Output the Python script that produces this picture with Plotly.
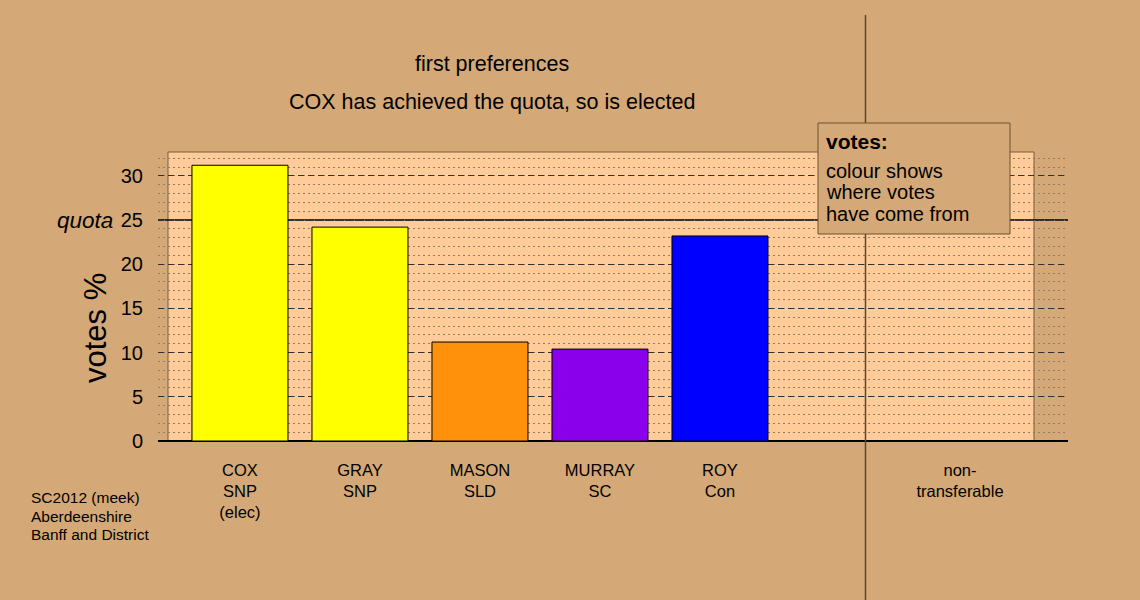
import plotly.graph_objects as go

# ---- data ----
candidates = ["COX", "GRAY", "MASON", "MURRAY", "ROY", "", "non-"]
parties = ["SNP", "SNP", "SLD", "SC", "Con", "", "transferable"]
status = ["(elec)", "", "", "", "", "", ""]
votes_pct = [31.2, 24.2, 11.2, 10.4, 23.2, None, 0.0]
bar_colors = ["#FFFF00", "#FFFF00", "#FF920A", "#8A00EA", "#0000FF", "#FFFFFF", "#FFFFFF"]
quota = 25
y_ticks = [0, 5, 10, 15, 20, 25, 30]
title_lines = ["first preferences", "COX has achieved the quota, so is elected"]
footer_lines = ["SC2012 (meek)", "Aberdeenshire", "Banff and District"]
box_title = "votes:"
box_lines = ["colour shows", "where votes", "have come from"]

# ---- layout geometry (pixels) ----
W, H = 1140, 600
L, R, T, B = 158, 1068, 152, 441
PW, PH = R - L, B - T


def px(x):
    return (x - L) / PW


def py(y):
    return (B - y) / PH


FONT = "Liberation Sans, Arial, sans-serif"
BG = "#D4A977"
PANEL = "#FFCC99"

keys = []
ticktext = []
for i, (c, p, s) in enumerate(zip(candidates, parties, status)):
    key = f"k{i}"
    keys.append(key)
    parts = [t for t in (c, p, s) if t]
    ticktext.append("<br>".join(parts))

fig = go.Figure()
fig.add_trace(go.Bar(
    x=keys,
    y=votes_pct,
    width=0.8,
    marker=dict(color=bar_colors, line=dict(color="#000000", width=1)),
    hoverinfo="skip",
    showlegend=False,
))

shapes = []
# panel background
shapes.append(dict(type="rect", xref="paper", yref="paper",
                   x0=px(168), x1=px(1034), y0=0, y1=1,
                   fillcolor=PANEL, line=dict(color="#7A5C3A", width=1),
                   layer="below"))
# quota line
shapes.append(dict(type="line", xref="paper", yref="y",
                   x0=0, x1=1, y0=quota, y1=quota,
                   line=dict(color="#000000", width=1.5), layer="between"))
# vertical separator
shapes.append(dict(type="line", xref="paper", yref="paper",
                   x0=px(865.5), x1=px(865.5), y0=py(15), y1=py(600),
                   line=dict(color="#5A4630", width=1.5), layer="above"))
# info box
shapes.append(dict(type="rect", xref="paper", yref="paper",
                   x0=px(818), x1=px(1010), y0=py(234), y1=py(123),
                   fillcolor=BG, line=dict(color="#6B5334", width=1),
                   layer="above"))

ann = []
for txt, yy in zip(title_lines, [64, 102]):
    ann.append(dict(text=txt, xref="paper", yref="paper", x=px(492), y=py(yy),
                    xanchor="center", yanchor="middle", showarrow=False,
                    font=dict(size=21.5, color="#000000", family=FONT)))
for txt, yy in zip(footer_lines, [497, 516, 534]):
    ann.append(dict(text=txt, xref="paper", yref="paper", x=px(29), y=py(yy),
                    xanchor="left", yanchor="middle", showarrow=False,
                    font=dict(size=15.5, color="#000000", family=FONT)))
ann.append(dict(text="<b>" + box_title + "</b>", xref="paper", yref="paper",
                x=px(824), y=py(142), xanchor="left", yanchor="middle",
                showarrow=False, font=dict(size=21, color="#000000", family=FONT)))
for txt, yy in zip(box_lines, [170.5, 192, 213.5]):
    ann.append(dict(text=txt, xref="paper", yref="paper", x=px(824), y=py(yy),
                    xanchor="left", yanchor="middle", showarrow=False,
                    font=dict(size=20, color="#000000", family=FONT)))
ann.append(dict(text="<i>quota</i>", xref="paper", yref="y", x=px(115), y=quota,
                xanchor="right", yanchor="middle", showarrow=False,
                font=dict(size=22.5, color="#000000", family=FONT)))
ann.append(dict(text="votes %", xref="paper", yref="paper", x=px(95), y=py(328),
                xanchor="center", yanchor="middle", textangle=-90, showarrow=False,
                font=dict(size=31, color="#000000", family=FONT)))

fig.update_layout(
    width=W, height=H,
    margin=dict(l=L, r=W - R, t=T, b=H - B, pad=0),
    paper_bgcolor=BG,
    plot_bgcolor="rgba(0,0,0,0)",
    font=dict(family=FONT, color="#000000"),
    shapes=shapes,
    annotations=ann,
    bargap=0.2,
    showlegend=False,
)
fig.update_xaxes(
    type="category", categoryorder="array", categoryarray=keys,
    tickvals=keys, ticktext=ticktext,
    range=[-0.683, 6.9], showgrid=False, zeroline=False, showline=False,
    ticks="", ticklabelstandoff=17,
    tickfont=dict(size=16.5, color="#000000", family=FONT),
    fixedrange=True,
)
fig.update_yaxes(
    range=[0, 32.7],
    tickvals=y_ticks, ticktext=[str(v) for v in y_ticks],
    ticks="", ticklabelstandoff=14,
    tickfont=dict(size=20, color="#000000", family=FONT),
    showgrid=True, gridcolor="#333333", gridwidth=1, griddash="6px,4px",
    minor=dict(dtick=1, tick0=0, showgrid=True, gridcolor="#8E7C68",
               gridwidth=1, griddash="2px,3px"),
    zeroline=True, zerolinecolor="#000000", zerolinewidth=1.5,
    showline=False, fixedrange=True,
)

fig.write_html(
    "out.html",
    config={"displayModeBar": False},
    post_script="document.body.style.margin='0';document.body.style.overflow='hidden';",
)
